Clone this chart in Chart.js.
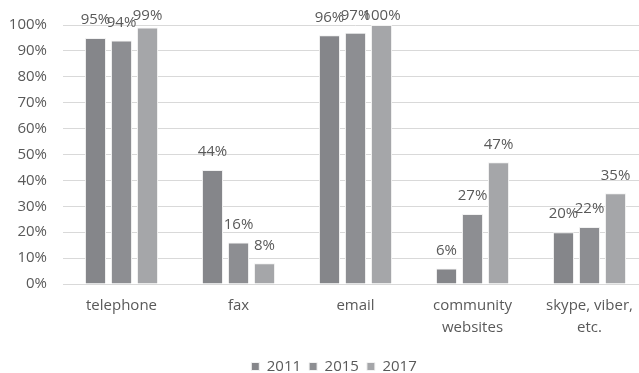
<!DOCTYPE html>
<html>
<head>
<meta charset="utf-8">
<script src="https://cdn.jsdelivr.net/npm/chart.js@4.4.1/dist/chart.umd.min.js"></script>
<style>
  html, body { margin: 0; padding: 0; background: #ffffff; overflow: hidden; }
  #wrap { width: 650px; height: 373px; position: relative; }
</style>
</head>
<body>
<div id="wrap"><canvas id="chart"></canvas></div>
<script>
// Communication channels used, share of respondents by survey year
const categories = ["telephone", "fax", "email", ["community", "websites"], ["skype, viber,", "etc."]];
const years = ["2011", "2015", "2017"];
const values2011 = [95, 44, 96, 6, 20];
const values2015 = [94, 16, 97, 27, 22];
const values2017 = [99, 8, 100, 47, 35];
const yTicks = [0, 10, 20, 30, 40, 50, 60, 70, 80, 90, 100];

const FONT = "'Open Sans', 'Liberation Sans', sans-serif";
const TEXT = "#595959";
const colors = ["#85868a", "#8d8e92", "#a5a6a9"];

// Value labels above each bar, kept inside the top of the canvas
const valueLabels = {
  id: "valueLabels",
  afterDatasetsDraw(chart) {
    const ctx = chart.ctx;
    ctx.save();
    ctx.font = "15px " + FONT;
    ctx.fillStyle = TEXT;
    ctx.textAlign = "center";
    ctx.textBaseline = "middle";
    chart.data.datasets.forEach((ds, i) => {
      const meta = chart.getDatasetMeta(i);
      meta.data.forEach((bar, j) => {
        const y = Math.max(bar.y - 18, 16);
        ctx.fillText(ds.data[j] + "%", bar.x, y);
      });
    });
    ctx.restore();
  }
};

// Nudge the legend so it sits centred under the bars and close to the bottom edge
const legendPlacement = {
  id: "legendPlacement",
  afterLayout(chart) {
    const lg = chart.legend;
    if (!lg) return;
    lg.left += 8; lg.right += 8;
    lg.top += 11; lg.bottom += 11;
  }
};

new Chart(document.getElementById("chart"), {
  type: "bar",
  data: {
    labels: categories,
    datasets: [values2011, values2015, values2017].map((d, i) => ({
      label: years[i],
      data: d,
      backgroundColor: colors[i],
      borderColor: "#f2f2f2",
      borderWidth: 1,
      categoryPercentage: 0.667,
      barPercentage: 0.81
    }))
  },
  options: {
    responsive: true,
    maintainAspectRatio: false,
    animation: false,
    layout: { padding: { top: 17, right: 2, left: 4, bottom: 0 } },
    plugins: {
      legend: {
        position: "bottom",
        labels: {
          font: { family: FONT, size: 15 },
          color: TEXT,
          boxWidth: 8,
          boxHeight: 8,
          padding: 8
        }
      },
      tooltip: { enabled: false }
    },
    scales: {
      x: {
        grid: { display: false, drawTicks: false },
        border: { color: "#d9d9d9" },
        afterFit(axis) { axis.height -= 9; },
        ticks: { font: { family: FONT, size: 15, lineHeight: 1.5 }, color: TEXT, padding: 10, maxRotation: 0 }
      },
      y: {
        min: 0,
        max: 100,
        afterBuildTicks(axis) { axis.ticks = yTicks.map(v => ({ value: v })); },
        afterFit(axis) { axis.width = 59; },
        grid: { color: "#d9d9d9", drawTicks: false },
        border: { display: false },
        ticks: {
          font: { family: FONT, size: 15 },
          color: TEXT,
          padding: 16,
          callback: v => v + "%"
        }
      }
    }
  },
  plugins: [valueLabels, legendPlacement]
});
</script>
</body>
</html>
